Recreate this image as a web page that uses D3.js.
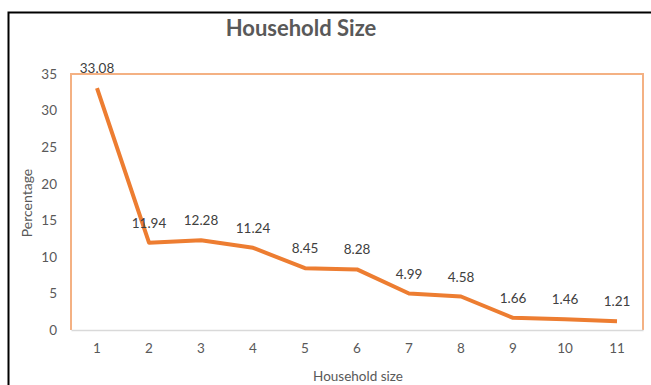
<!DOCTYPE html>
<html>
<head>
<meta charset="utf-8">
<script src="https://cdn.jsdelivr.net/npm/d3@7"></script>
<style>
  html, body { margin: 0; padding: 0; background: #fff; }
  svg { display: block; }
</style>
</head>
<body>
<script>
// Share of households by number of members
const householdSizes = ["1", "2", "3", "4", "5", "6", "7", "8", "9", "10", "11"];
const percentages = [33.08, 11.94, 12.28, 11.24, 8.45, 8.28, 4.99, 4.58, 1.66, 1.46, 1.21];
const yTicks = [0, 5, 10, 15, 20, 25, 30, 35];

const W = 651, H = 385;
const plot = { left: 71, right: 643, top: 74, bottom: 330 };
const font = "Lato, 'Open Sans', sans-serif";

const svg = d3.select("body").append("svg").attr("width", W).attr("height", H);

// outer frame (top and left edges)
svg.append("path")
  .attr("d", `M8.5,${H} L8.5,12.5 L${W},12.5`)
  .attr("fill", "none").attr("stroke", "#000").attr("stroke-width", 2);

const x = d3.scaleBand().domain(householdSizes).range([plot.left, plot.right]);
const y = d3.scaleLinear().domain([0, 35]).range([plot.bottom, plot.top]);

// plot-area border
svg.append("path")
  .attr("d", `M${plot.left},${plot.bottom} L${plot.left},${plot.top} L${plot.right},${plot.top} L${plot.right},${plot.bottom}`)
  .attr("fill", "none").attr("stroke", "#F4B183").attr("stroke-width", 2);

// category axis
const xAxis = svg.append("g")
  .attr("transform", `translate(0,${plot.bottom})`)
  .call(d3.axisBottom(x).tickSize(0).tickPadding(13));
xAxis.select(".domain").attr("stroke", "#D9D9D9").attr("stroke-width", 1.5);
xAxis.selectAll("text").attr("fill", "#595959").style("font-family", font).style("font-size", "13.5px");

// value axis
const yAxis = svg.append("g")
  .attr("transform", `translate(${plot.left},0)`)
  .call(d3.axisLeft(y).tickValues(yTicks).tickSize(0).tickPadding(14));
yAxis.select(".domain").remove();
yAxis.selectAll("text").attr("fill", "#595959").style("font-family", font).style("font-size", "13.5px");

// series line
const line = d3.line()
  .x((d, i) => x(householdSizes[i]) + x.bandwidth() / 2)
  .y(d => y(d));

svg.append("path")
  .datum(percentages)
  .attr("d", line)
  .attr("fill", "none")
  .attr("stroke", "#ED7D31")
  .attr("stroke-width", 4)
  .attr("stroke-linejoin", "round");

// data labels
svg.append("g").selectAll("text")
  .data(percentages)
  .join("text")
  .attr("x", (d, i) => x(householdSizes[i]) + x.bandwidth() / 2)
  .attr("y", d => y(d) - 15)
  .attr("text-anchor", "middle")
  .attr("fill", "#404040")
  .style("font-family", font)
  .style("font-size", "13.5px")
  .text(d => d.toFixed(2));

// title
svg.append("text")
  .attr("x", 301).attr("y", 36)
  .attr("text-anchor", "middle")
  .attr("fill", "#595959")
  .style("font-family", font)
  .style("font-size", "22px")
  .style("font-weight", "bold")
  .text("Household Size");

// axis titles
svg.append("text")
  .attr("transform", `translate(32,203) rotate(-90)`)
  .attr("text-anchor", "middle")
  .attr("fill", "#595959")
  .style("font-family", font)
  .style("font-size", "14px")
  .text("Percentage");

svg.append("text")
  .attr("x", 358).attr("y", 381)
  .attr("text-anchor", "middle")
  .attr("fill", "#595959")
  .style("font-family", font)
  .style("font-size", "13.5px")
  .text("Household size");
</script>
</body>
</html>
